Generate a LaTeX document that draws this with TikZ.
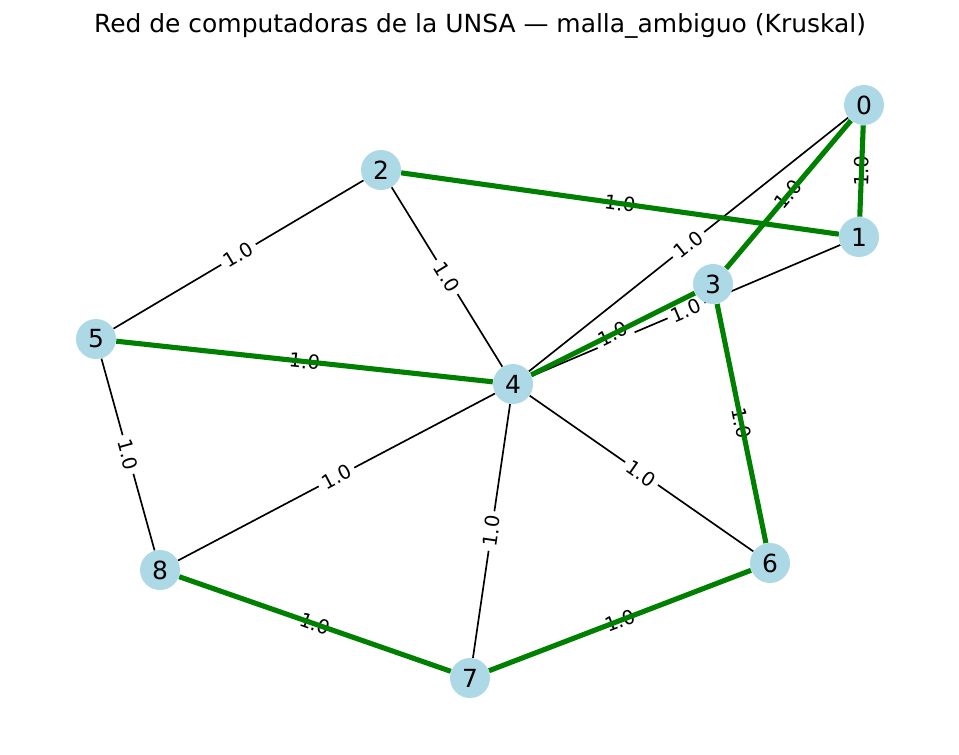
\documentclass[tikz,border=0pt]{standalone}
\usepackage{fontspec}
\setmainfont{DejaVu Sans}
\usepackage{tikz}
\usetikzlibrary{backgrounds}
\definecolor{nodeblue}{RGB}{173,216,230}
\definecolor{treegreen}{RGB}{0,128,0}
\pgfdeclarelayer{edges}
\pgfdeclarelayer{labels}
\pgfdeclarelayer{tree}
\pgfsetlayers{edges,labels,tree,main}
\tikzstyle{pc} = [circle, fill = nodeblue, inner sep = 0pt, minimum size = 0.8cm, font = \fontsize{14.2}{16}\selectfont]
\tikzstyle{link} = [black, line width = 0.95pt]
\tikzstyle{mst} = [treegreen, line width = 2.9pt]
\tikzstyle{weight} = [fill = white, inner sep = 2.5pt, sloped, font = \fontsize{11.1}{13}\selectfont]

\begin{document}
\begin{tikzpicture}[x = 0.02cm, y = -0.02cm]
            \useasboundingbox (0, 0) rectangle (959, 754);
            \node (title) at (480, 26) [font = \fontsize{14.2}{16}\selectfont] {Red de computadoras de la UNSA — malla\_ambiguo (Kruskal)};
            \node (n0) at (864, 105) [pc] {0};
            \node (n1) at (859, 237) [pc] {1};
            \node (n2) at (381, 170) [pc] {2};
            \node (n3) at (713, 284) [pc] {3};
            \node (n4) at (513, 384) [pc] {4};
            \node (n5) at (96, 339) [pc] {5};
            \node (n6) at (770, 563) [pc] {6};
            \node (n7) at (470, 678) [pc] {7};
            \node (n8) at (160, 570) [pc] {8};
            \begin{pgfonlayer}{edges}
            \draw [link] (n2) -- node [weight] {1.0} (n5);
            \draw [link] (n2) -- node [weight] {1.0} (n4);
            \draw [link] (n0) -- node [weight] {1.0} (n4);
            \draw [link] (n4) -- node [weight] {1.0} (n1);
            \draw [link] (n5) -- node [weight] {1.0} (n8);
            \draw [link] (n4) -- node [weight] {1.0} (n8);
            \draw [link] (n4) -- node [weight] {1.0} (n7);
            \draw [link] (n4) -- node [weight] {1.0} (n6);
            \end{pgfonlayer}
            \begin{pgfonlayer}{labels}
            \path (n0) -- node [weight] {1.0} (n1);
            \path (n0) -- node [weight] {1.0} (n3);
            \path (n2) -- node [weight] {1.0} (n1);
            \path (n5) -- node [weight] {1.0} (n4);
            \path (n3) -- node [weight] {1.0} (n4);
            \path (n3) -- node [weight] {1.0} (n6);
            \path (n8) -- node [weight] {1.0} (n7);
            \path (n7) -- node [weight] {1.0} (n6);
            \end{pgfonlayer}
            \begin{pgfonlayer}{tree}
            \draw [mst] (n0) -- (n1);
            \draw [mst] (n0) -- (n3);
            \draw [mst] (n2) -- (n1);
            \draw [mst] (n5) -- (n4);
            \draw [mst] (n3) -- (n4);
            \draw [mst] (n3) -- (n6);
            \draw [mst] (n8) -- (n7);
            \draw [mst] (n7) -- (n6);
            \end{pgfonlayer}
        \end{tikzpicture}
\end{document}
